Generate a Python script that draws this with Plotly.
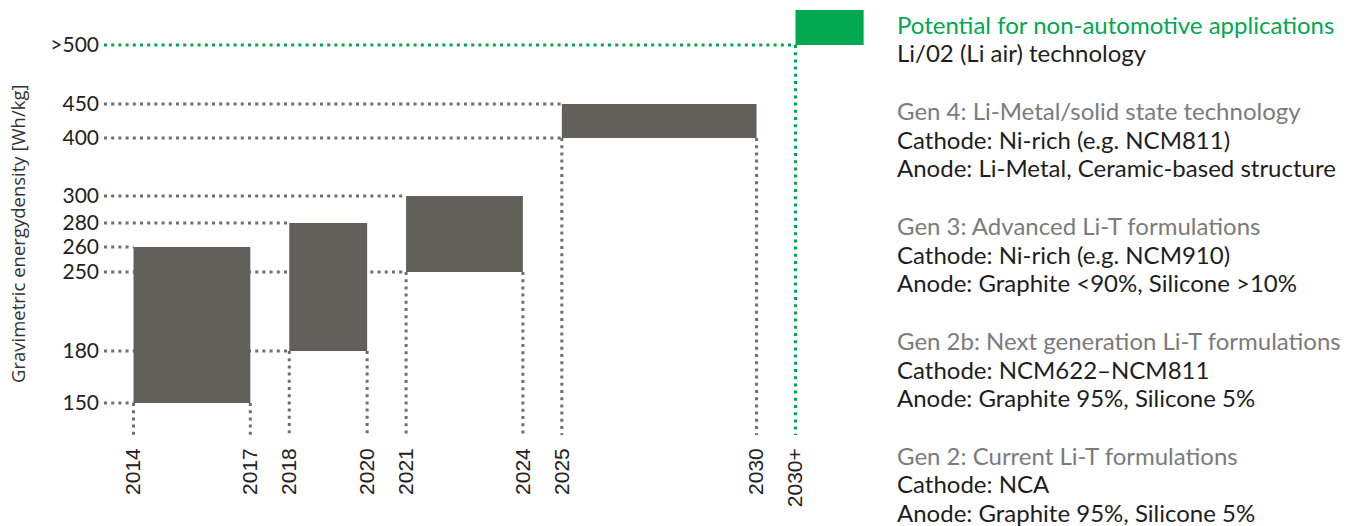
import numpy as np
import plotly.graph_objects as go

# ---------------- data ----------------
gen_start = [2014, 2018, 2021, 2025]
gen_end = [2017, 2020, 2024, 2030]
gen_low = [150, 180, 250, 400]
gen_high = [260, 280, 300, 450]

future_start = 2031          # shown as "2030+"
future_value = 500           # shown as ">500"

x_tick_vals = [2014, 2017, 2018, 2020, 2021, 2024, 2025, 2030, 2031]
x_tick_text = ["2014", "2017", "2018", "2020", "2021", "2024", "2025", "2030", "2030+"]

y_tick_vals = [150, 180, 250, 260, 280, 300, 400, 450, 500]
y_tick_text = ["150", "180", "250", "260", "280", "300", "400", "450", ">500"]

legend_lines = [
    ("Potential for non-automotive applications", "green"),
    ("Li/02 (Li air) technology", "dark"),
    ("", None),
    ("Gen 4: Li-Metal/solid state technology", "grey"),
    ("Cathode: Ni-rich (e.g. NCM811)", "dark"),
    ("Anode: Li-Metal, Ceramic-based structure", "dark"),
    ("", None),
    ("Gen 3: Advanced Li-T formulations", "grey"),
    ("Cathode: Ni-rich (e.g. NCM910)", "dark"),
    ("Anode: Graphite <90%, Silicone >10%", "dark"),
    ("", None),
    ("Gen 2b: Next generation Li-T formulations", "grey"),
    ("Cathode: NCM622\u2013NCM811", "dark"),
    ("Anode: Graphite 95%, Silicone 5%", "dark"),
    ("", None),
    ("Gen 2: Current Li-T formulations", "grey"),
    ("Cathode: NCA", "dark"),
    ("Anode: Graphite 95%, Silicone 5%", "dark"),
]

# ---------------- styling / scale ----------------
GREY_BAR = "#62605b"
GREEN = "#00a84f"
DOT_GREY = "#6f6f6f"
TEXT_DARK = "#1e1e1e"
TEXT_GREY = "#7b7b7b"
COLORS = {"green": GREEN, "dark": TEXT_DARK, "grey": TEXT_GREY}

# Non-linear (broken) value axis of the original infographic:
# axis position of each tick value
y_tick_pos = [32, 84, 163, 188, 212, 239, 297, 331, 390]
Y_TOP = 425          # top of the open-ended ">500" box
Y_RANGE = [0, 435]


def ys(v):
    return float(np.interp(v, y_tick_vals, y_tick_pos))


W, H = 1354, 526
ML, MB = 104, 91
PX_PER_YEAR = 38.94
X0 = 2014 - (133.5 - ML) / PX_PER_YEAR
X1 = 2014 + (W - 133.5) / PX_PER_YEAR
FUTURE_BOX_END = future_start + 1.75

fig = go.Figure()

dot = "3px,4.2px"


def dotted(xs, yv, color):
    fig.add_trace(go.Scatter(x=xs, y=yv, mode="lines",
                             line=dict(color=color, width=3, dash=dot),
                             hoverinfo="skip", showlegend=False))


# horizontal guide lines from the axis to each bar
for s, lo, hi in zip(gen_start, gen_low, gen_high):
    for v in (lo, hi):
        dotted([X0, s], [ys(v), ys(v)], DOT_GREY)
# vertical guide lines from each bar down to the year axis
for s, e, lo in zip(gen_start, gen_end, gen_low):
    for xv in (s, e):
        dotted([xv, xv], [ys(lo), 0], DOT_GREY)

# future (green)
dotted([X0, future_start], [ys(future_value), ys(future_value)], GREEN)
dotted([future_start, future_start], [ys(future_value), 0], GREEN)

shapes = []
for s, e, lo, hi in zip(gen_start, gen_end, gen_low, gen_high):
    shapes.append(dict(type="rect", xref="x", yref="y", x0=s, x1=e,
                       y0=ys(lo), y1=ys(hi), fillcolor=GREY_BAR,
                       line=dict(width=0), layer="above"))
shapes.append(dict(type="rect", xref="x", yref="y", x0=future_start,
                   x1=FUTURE_BOX_END, y0=ys(future_value), y1=Y_TOP,
                   fillcolor=GREEN, line=dict(width=0), layer="above"))

annotations = []
# y-axis title
annotations.append(dict(
    text="Gravimetric energydensity [Wh/kg]", textangle=-90,
    xref="paper", yref="paper", x=(18 - ML) / (W - ML), y=(435 - 234) / 435,
    xanchor="center", yanchor="middle", showarrow=False,
    font=dict(family="Open Sans", size=18.5, color="#333333")))

# description text on the right
line_y0 = 24
line_step = 28.75
for i, (txt, col) in enumerate(legend_lines):
    if not txt:
        continue
    ypix = line_y0 + i * line_step
    annotations.append(dict(
        text=txt, xref="paper", yref="paper",
        x=(895 - ML) / (W - ML), y=(435 - ypix) / 435,
        xanchor="left", yanchor="middle", showarrow=False,
        font=dict(family="Lato", size=24, color=COLORS[col])))

fig.update_layout(
    width=W, height=H,
    margin=dict(l=ML, r=0, t=0, b=MB),
    paper_bgcolor="white", plot_bgcolor="white",
    showlegend=False,
    shapes=shapes, annotations=annotations,
    xaxis=dict(range=[X0, X1], tickmode="array", tickvals=x_tick_vals,
               ticktext=x_tick_text, tickangle=-90, showgrid=False,
               zeroline=False, showline=False, ticks="",
               ticklabelstandoff=8,
               tickfont=dict(family="Liberation Sans, Arial", size=21, color="#222222")),
    yaxis=dict(range=Y_RANGE, tickmode="array",
               tickvals=[ys(v) for v in y_tick_vals], ticktext=y_tick_text,
               showgrid=False, zeroline=False, showline=False, ticks="",
               ticklabelstandoff=4,
               tickfont=dict(family="Lato", size=21, color="#222222")),
)

fig.write_html("out.html", config={"displayModeBar": False},
               post_script="document.body.style.margin='0px';")
